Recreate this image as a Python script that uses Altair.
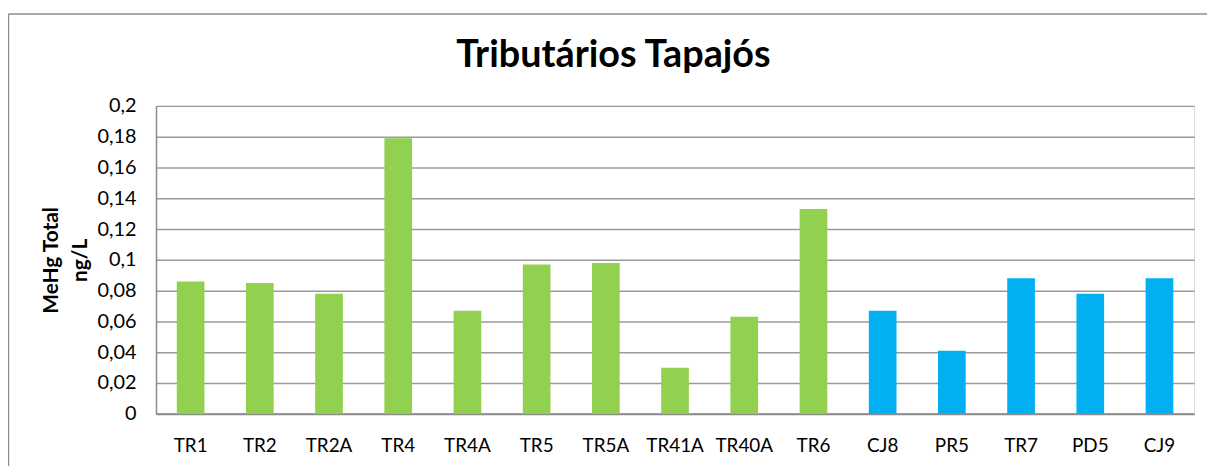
import altair as alt
import pandas as pd

stations = ["TR1", "TR2", "TR2A", "TR4", "TR4A", "TR5", "TR5A", "TR41A", "TR40A", "TR6",
            "CJ8", "PR5", "TR7", "PD5", "CJ9"]
values = [0.086, 0.085, 0.078, 0.179, 0.067, 0.097, 0.098, 0.030, 0.063, 0.133,
          0.067, 0.041, 0.088, 0.078, 0.088]
groups = ["Tributário"] * 10 + ["Tapajós"] * 5
y_ticks = [0, 0.02, 0.04, 0.06, 0.08, 0.1, 0.12, 0.14, 0.16, 0.18, 0.2]

df = pd.DataFrame({"station": stations, "value": values, "group": groups})

FONT = "Lato"

bars = alt.Chart(df).mark_bar().encode(
    x=alt.X("station:N", sort=stations,
            scale=alt.Scale(paddingInner=0.6, paddingOuter=0.3),
            axis=alt.Axis(title=None, labelAngle=0, ticks=False, labelPadding=23,
                          labelFontSize=19, labelColor="black", labelFont=FONT,
                          domainColor="#8c8c8c", domainWidth=2, grid=False)),
    y=alt.Y("value:Q", scale=alt.Scale(domain=[0, 0.2], nice=False),
            axis=alt.Axis(values=y_ticks, title=["MeHg Total", "ng/L"],
                          titleFontSize=21, titleFont=FONT, titleFontWeight="bold",
                          titleColor="black", titlePadding=7, titleLineHeight=29,
                          labelExpr="replace(format(datum.value, ''), '.', ',')",
                          labelFontSize=20, labelColor="black", labelFont=FONT,
                          labelPadding=20, ticks=False,
                          domainColor="#8c8c8c", domainWidth=1.5,
                          gridColor="#9a9a9a", gridWidth=1.5)),
    color=alt.Color("group:N", scale=alt.Scale(domain=["Tributário", "Tapajós"],
                                               range=["#92D050", "#00B0F0"]),
                    legend=None),
)

one_row = alt.Data(values=[{"a": 1}])
left_edge = alt.Chart(one_row).mark_rule(
    stroke="#8c8c8c", strokeWidth=1.5, clip=False
).encode(x=alt.value(-148.5), y=alt.value(-92.5), y2=alt.value(600))
top_edge = alt.Chart(one_row).mark_rule(
    stroke="#8c8c8c", strokeWidth=1.5, clip=False
).encode(x=alt.value(-148.5), x2=alt.value(1300), y=alt.value(-92.5))

chart = alt.layer(left_edge, top_edge, bars).properties(
    width=1045, height=310,
    title=alt.TitleParams("Tributários Tapajós", fontSize=38, font=FONT,
                          fontWeight="bold", color="black", anchor="middle",
                          frame="group", offset=-62, dx=-62),
    padding={"left": 149, "top": 97, "right": 13, "bottom": 51},
    autosize=alt.AutoSizeParams(type="none"),
).configure_view(stroke=None).configure(background="white")

chart.save("out.html", embed_options={"renderer": "svg", "actions": False})
